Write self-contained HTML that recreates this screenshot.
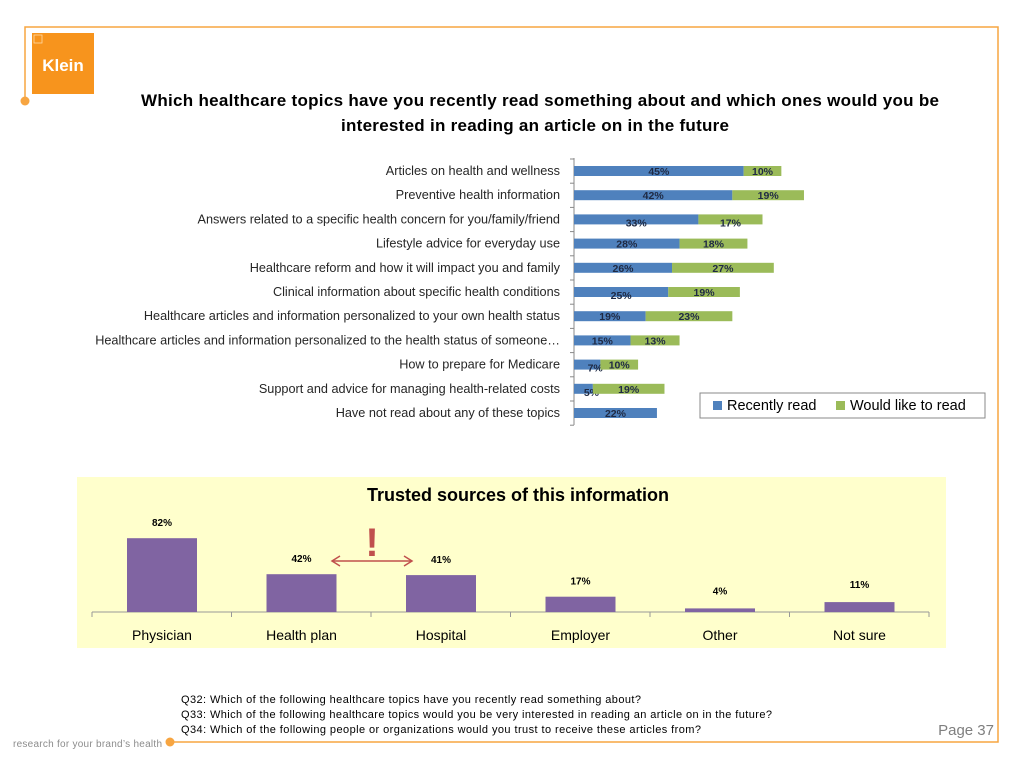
<!DOCTYPE html>
<html><head><meta charset="utf-8"><style>
body{margin:0;width:1024px;height:768px;background:#fff;overflow:hidden;font-family:"Liberation Sans",sans-serif}
svg{display:block}
</style></head><body>
<svg id="s" width="1024" height="768" xmlns="http://www.w3.org/2000/svg">
<g fill="none" stroke="#F7A541" stroke-width="1.5">
<polyline points="25,101 25,27 998,27 998,742 170,742"/>
</g>
<circle cx="25" cy="101" r="4.5" fill="#F7A541"/>
<circle cx="170" cy="742" r="4.5" fill="#F7A541"/>
<g>
<rect x="32" y="33" width="62" height="61" fill="#F7941D"/>
<rect x="34" y="35" width="8" height="8" fill="none" stroke="#FFD9A8" stroke-width="0.8"/>
<text x="63" y="71" fill="#fff" font-size="17" font-weight="bold" text-anchor="middle">Klein</text>
</g>
<text x="540" y="106" font-size="17" font-weight="bold" text-anchor="middle" textLength="798">Which healthcare topics have you recently read something about and which ones would you be</text>
<text x="535" y="131" font-size="17" font-weight="bold" text-anchor="middle" textLength="388">interested in reading an article on in the future</text>
<g id="hb"></g>
<g>
<rect x="700" y="393" width="285" height="25" fill="#fff" stroke="#888"/>
<rect x="713" y="401" width="9" height="9" fill="#4F81BD"/>
<text x="727" y="410" font-size="14.5">Recently read</text>
<rect x="836" y="401" width="9" height="9" fill="#9BBB59"/>
<text x="850" y="410" font-size="14.5">Would like to read</text>
</g>
<rect x="77" y="477" width="869" height="171" fill="#FFFFCC"/>
<text x="518" y="501" font-size="18" font-weight="bold" text-anchor="middle">Trusted sources of this information</text>
<g id="vb"></g>
<g>
<text x="372" y="556" font-size="40" font-weight="bold" fill="#C0504D" text-anchor="middle">!</text>
<line x1="332" y1="561" x2="412" y2="561" stroke="#C0504D" stroke-width="1.5"/>
<polyline points="340,556 332,561 340,566" fill="none" stroke="#C0504D" stroke-width="1.5"/>
<polyline points="404,556 412,561 404,566" fill="none" stroke="#C0504D" stroke-width="1.5"/>
</g>
<g font-size="11">
<text x="181" y="703" textLength="460">Q32:  Which of the following healthcare topics have you recently read something about?</text>
<text x="181" y="718" textLength="591">Q33:  Which of the following healthcare topics would you be very interested in reading an article on in the future?</text>
<text x="181" y="733" textLength="520">Q34:  Which of the following people or organizations would you trust to receive these articles from?</text>
</g>
<text x="994" y="735" font-size="15" fill="#7F7F7F" text-anchor="end">Page 37</text>
<text x="13" y="747" font-size="10" fill="#8C8C8C" textLength="149">research for your brand’s health</text>
</svg>
<script>
const topics=["Articles on health and wellness","Preventive health information","Answers related to a specific health concern for you/family/friend","Lifestyle advice for everyday use","Healthcare reform and how it will impact you and family","Clinical information about specific health conditions","Healthcare articles and information personalized to your own health status","Healthcare articles and information personalized to the health status of someone…","How to prepare for Medicare","Support and advice for managing health-related costs","Have not read about any of these topics"];
const recent=[45,42,33,28,26,25,19,15,7,5,22];
const future=[10,19,17,18,27,19,23,13,10,19,0];
const sources=["Physician","Health plan","Hospital","Employer","Other","Not sure"];
const trust=[82,42,41,17,4,11];
const NS="http://www.w3.org/2000/svg";
function mk(t,a,p){const e=document.createElementNS(NS,t);for(const k in a)e.setAttribute(k,a[k]);p.appendChild(e);return e;}
const hb=document.getElementById('hb');
const x0=574,px=3.77;
const xs=v=>v*px;
const yc=i=>171+i*24.2;
mk('line',{x1:x0,y1:158,x2:x0,y2:425,stroke:'#888'},hb);
for(let i=0;i<=topics.length;i++){mk('line',{x1:x0-4,y1:159+i*24.2,x2:x0,y2:159+i*24.2,stroke:'#888'},hb);}
topics.forEach((t,i)=>{
 const y=yc(i);
 const l=mk('text',{x:560,y:y+4,'font-size':12.7,'text-anchor':'end',fill:'#262626'},hb);l.textContent=t;
 
 
 const b=mk('rect',{x:x0,y:y-5,width:xs(recent[i]),height:10,fill:'#4F81BD'},hb);
 
 
 const bl=mk('text',{x:x0+xs(recent[i])/2+(recent[i]<10?8:0),y:y+4+(recent[i]<10||i==5||i==2?3:0),'font-size':10.5,'font-weight':'bold','text-anchor':'middle',fill:'#1F2A44'},hb);bl.textContent=recent[i]+'%';
 if(future[i]>0){
  const g=mk('rect',{x:x0+xs(recent[i]),y:y-5,width:xs(future[i]),height:10,fill:'#9BBB59'},hb);
  
  
  const gl=mk('text',{x:x0+xs(recent[i])+xs(future[i])/2,y:y+4+(i==2?3:0),'font-size':10.5,'font-weight':'bold','text-anchor':'middle',fill:'#1F2A44'},hb);gl.textContent=future[i]+'%';
 }
});
const vb=document.getElementById('vb');
const base=612,vp=0.9,cw=139.5,cx0=162;
const vy=v=>base-v*vp;
mk('line',{x1:92,y1:base,x2:929,y2:base,stroke:'#999'},vb);
for(let i=0;i<=sources.length;i++){mk('line',{x1:92+i*cw,y1:base,x2:92+i*cw,y2:base+5,stroke:'#999'},vb);}
sources.forEach((s,i)=>{
 const cx=cx0+i*cw;
 const r=mk('rect',{x:cx-35,y:vy(trust[i]),width:70,height:trust[i]*vp,fill:'#8064A2'},vb);
 
 
 const ly=trust[i]<12?vy(trust[i])-14:vy(trust[i])-12;
 const t=mk('text',{x:cx,y:ly,'font-size':10,'font-weight':'bold','text-anchor':'middle'},vb);t.textContent=trust[i]+'%';
 const c=mk('text',{x:cx,y:640,'font-size':14,'text-anchor':'middle'},vb);c.textContent=s;
 
 
});
</script>
</body></html>
